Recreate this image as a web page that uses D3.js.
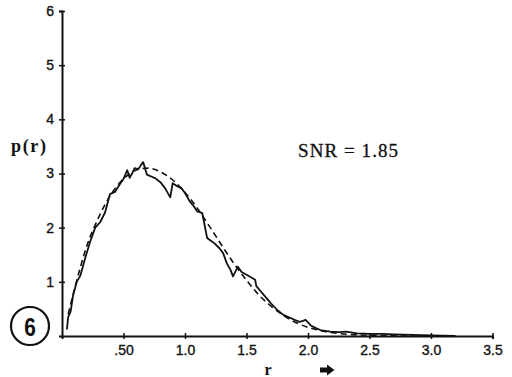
<!DOCTYPE html>
<html>
<head>
<meta charset="utf-8">
<script src="https://cdn.jsdelivr.net/npm/d3@7"></script>
<style>
  body { margin: 0; background: #fff; }
  svg { display: block; }
  .tick text { font-family: "Liberation Sans", Arial, sans-serif; font-size: 14px; fill: #111; stroke: #111; stroke-width: 0.35px; }
  .lbl { font-family: "Liberation Serif", "Times New Roman", serif; fill: #111; }
</style>
</head>
<body>
<div id="chart"></div>
<script>
// measured histogram p(r)
const rMeasured = [0.04,0.05,0.07,0.09,0.12,0.15,0.19,0.23,0.27,0.31,0.35,0.39,0.43,0.47,0.50,0.53,0.55,0.57,0.59,0.62,0.64,0.66,0.69,0.73,0.76,0.80,0.84,0.88,0.90,0.94,0.97,1.00,1.04,1.07,1.10,1.14,1.18,1.21,1.24,1.28,1.31,1.34,1.37,1.39,1.43,1.46,1.50,1.54,1.57,1.58,1.61,1.64,1.67,1.70,1.75,1.80,1.85,1.89,1.93,1.96,1.98,2.02,2.06,2.10,2.18,2.25,2.31,2.40,2.50,2.60,2.70,2.85,3.00,3.20];
const pMeasured = [0.12,0.35,0.45,0.75,1.0,1.12,1.45,1.75,2.0,2.1,2.28,2.62,2.66,2.8,2.9,3.06,2.92,3.0,3.1,3.08,3.15,3.21,2.98,2.94,2.91,2.84,2.72,2.56,2.82,2.76,2.73,2.64,2.48,2.4,2.30,2.27,1.81,1.76,1.71,1.62,1.53,1.34,1.22,1.10,1.28,1.18,1.13,1.08,1.04,0.92,0.84,0.76,0.68,0.60,0.48,0.39,0.34,0.30,0.26,0.28,0.30,0.20,0.15,0.11,0.08,0.07,0.08,0.05,0.04,0.04,0.03,0.02,0.01,0.0];

// theoretical curve (dashed)
const rTheory = [0.05,0.1,0.2,0.3,0.4,0.5,0.6,0.7,0.8,0.9,1.0,1.1,1.2,1.3,1.4,1.5,1.6,1.7,1.8,1.9,2.0,2.1,2.2,2.4,2.6,2.8,3.0];
const pTheory = [0.4,0.85,1.65,2.2,2.62,2.9,3.06,3.1,3.03,2.88,2.65,2.36,2.02,1.67,1.33,1.03,0.76,0.55,0.38,0.25,0.16,0.1,0.06,0.02,0.01,0.0,0.0];

const xTicks = [0.5,1.0,1.5,2.0,2.5,3.0,3.5];
const xTickLabels = [".50","1.0","1.5","2.0","2.5","3.0","3.5"];
const yTicks = [1,2,3,4,5,6];

const W = 512, H = 377;
const svg = d3.select("#chart").append("svg").attr("width", W).attr("height", H);

const x = d3.scaleLinear().domain([0, 3.5]).range([62, 492.5]);
const y = d3.scaleLinear().domain([0, 6]).range([336, 11]);

// x axis
const gx = svg.append("g")
    .attr("transform", `translate(0,${y(0)})`)
    .call(d3.axisBottom(x).tickValues(xTicks)
        .tickFormat((d, i) => xTickLabels[i]).tickSizeOuter(0).tickSize(3).tickPadding(6));
gx.select(".domain").attr("stroke", "#111").attr("stroke-width", 2);
gx.selectAll(".tick line").attr("y1", -3).attr("y2", 3).attr("stroke", "#111").attr("stroke-width", 1.5);

// y axis
const gy = svg.append("g")
    .attr("transform", `translate(${x(0)},0)`)
    .call(d3.axisLeft(y).tickValues(yTicks).tickFormat(d3.format("d"))
        .tickSizeOuter(0).tickSize(3).tickPadding(5));
gy.select(".domain").attr("stroke", "#111").attr("stroke-width", 2);
gy.selectAll(".tick line").attr("x1", -3).attr("x2", 3).attr("stroke", "#111").attr("stroke-width", 1.5);

const line = d3.line().x(d => x(d[0])).y(d => y(d[1]));

svg.append("path")
    .datum(d3.zip(rTheory, pTheory))
    .attr("d", line.curve(d3.curveMonotoneX))
    .attr("fill", "none").attr("stroke", "#111")
    .attr("stroke-width", 1.6).attr("stroke-dasharray", "6,4");

svg.append("path")
    .datum(d3.zip(rMeasured, pMeasured))
    .attr("d", d3.line().x(d => x(d[0])).y(d => y(d[1]))(d3.zip(rMeasured, pMeasured)))
    .attr("fill", "none").attr("stroke", "#111")
    .attr("stroke-width", 1.8).attr("stroke-linejoin", "round");

// labels
svg.append("text").attr("class", "lbl")
    .attr("x", 11).attr("y", 152)
    .attr("font-size", 18).attr("font-weight", "bold")
    .attr("textLength", 35).attr("lengthAdjust", "spacing")
    .text("p(r)");

svg.append("text").attr("class", "lbl")
    .attr("x", 298).attr("y", 157)
    .attr("font-size", 19).attr("stroke", "#111").attr("stroke-width", 0.3)
    .attr("textLength", 100).attr("lengthAdjust", "spacing")
    .text("SNR = 1.85");

svg.append("text").attr("class", "lbl")
    .attr("x", 268).attr("y", 375)
    .attr("text-anchor", "middle")
    .attr("font-size", 16).attr("font-weight", "bold")
    .text("r");

// arrow
svg.append("path")
    .attr("d", "M320,367.5 L327,367.5 L327,364.5 L334.5,370 L327,375.5 L327,372.5 L320,372.5 Z")
    .attr("fill", "#111");

// circled panel number
svg.append("circle").attr("cx", 30).attr("cy", 326).attr("r", 19)
    .attr("fill", "none").attr("stroke", "#111").attr("stroke-width", 2.2);
svg.append("text")
    .attr("transform", "translate(30,336) scale(0.8,1)")
    .attr("text-anchor", "middle")
    .attr("font-family", "Liberation Sans, Arial, sans-serif")
    .attr("font-size", 26).attr("font-weight", "bold").attr("fill", "#111")
    .text("6");
</script>
</body>
</html>
